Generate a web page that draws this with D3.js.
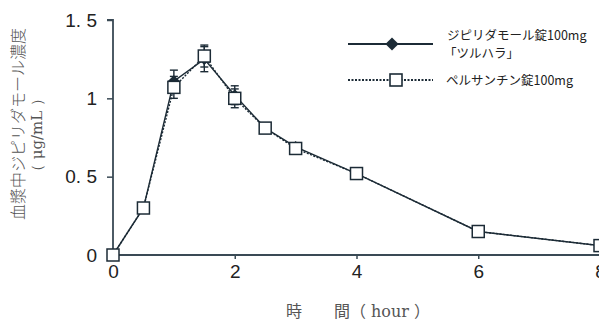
<!DOCTYPE html>
<html><head><meta charset="utf-8">
<script src="https://cdn.jsdelivr.net/npm/d3@7"></script>
<style>body{margin:0;background:#fff;}svg{display:block;}</style>
</head><body><svg id="c" width="599" height="322"></svg>
<script>
const times = [0, 0.5, 1, 1.5, 2, 2.5, 3, 4, 6, 8];
const tsuruhara = [0, 0.30, 1.11, 1.25, 1.02, 0.81, 0.69, 0.52, 0.15, 0.06];
const tsuruharaSD = [0, 0.01, 0.07, 0.08, 0.06, 0.03, 0.02, 0.01, 0.01, 0.005];
const persantin = [0, 0.30, 1.07, 1.27, 1.00, 0.81, 0.68, 0.52, 0.15, 0.06];
const persantinSD = [0, 0.01, 0.07, 0.07, 0.06, 0.02, 0.02, 0.01, 0.01, 0.005];
const xTicks = [0, 2, 4, 6, 8];
const yTicks = [0, 0.5, 1, 1.5];
const yTickLabels = ["0", "0. 5", "1", "1. 5"];
const seriesNames = ["ジピリダモール錠100mg", "「ツルハラ」", "ペルサンチン錠100mg"];
const yTitle = ["血漿中ジピリダモール濃度", "（ μg/mL ）"];
const xTitle = "時　　間（ hour ）";

const svg = d3.select("#c");
const col = "#1c2b36";
const axCol = "#3a4a55";
const x = d3.scaleLinear().domain([0, 8]).range([113, 600]);
const y = d3.scaleLinear().domain([0, 1.5]).range([255, 20]);

// axes
const yAxis = svg.append("g").attr("transform", "translate(113,0)")
  .call(d3.axisLeft(y).tickValues(yTicks).tickSize(6).tickFormat((d, i) => yTickLabels[i]));
yAxis.selectAll("text").attr("font-family", "Liberation Sans, Arial, sans-serif").attr("font-size", 19).attr("fill", "#222").attr("x", -16);
const xAxis = svg.append("g").attr("transform", "translate(0,255)")
  .call(d3.axisBottom(x).tickValues(xTicks).tickSize(4).tickFormat(d3.format("d")));
xAxis.selectAll("text").attr("font-family", "Liberation Sans, Arial, sans-serif").attr("font-size", 19).attr("fill", "#222").attr("y", 10);
svg.selectAll(".domain").attr("stroke", axCol).attr("stroke-width", 1.8);
svg.selectAll(".tick line").attr("stroke", axCol).attr("stroke-width", 1.5);
yAxis.select(".domain").attr("d", "M-6,20H0V255");
xAxis.select(".domain").attr("d", "M113,0H600");

// titles
svg.append("text").attr("transform", "translate(24,124) rotate(-90)").attr("text-anchor", "middle")
  .attr("font-family", "Noto Sans CJK JP, sans-serif").attr("font-weight", 300).attr("font-size", 16).attr("fill", "#555").text(yTitle[0]);
svg.append("text").attr("transform", "translate(42,135) rotate(-90)").attr("text-anchor", "middle")
  .attr("font-family", "DejaVu Serif, serif").attr("font-size", 15).attr("fill", "#555").text(yTitle[1]);
svg.append("text").attr("x", 358).attr("y", 317).attr("text-anchor", "middle")
  .attr("font-family", "DejaVu Serif, Noto Sans CJK JP, serif").attr("font-size", 16).attr("fill", "#555").text(xTitle);

// lines
const pts1 = times.map((t, i) => [t, tsuruhara[i], tsuruharaSD[i]]);
const pts2 = times.map((t, i) => [t, persantin[i], persantinSD[i]]);
const line = d3.line().x(d => x(d[0])).y(d => y(d[1]));

function errBars(pts) {
  const g = svg.append("g").attr("stroke", col).attr("stroke-width", 1.4);
  pts.filter(d => d[2] > 0.015).forEach(d => {
    g.append("line").attr("x1", x(d[0])).attr("x2", x(d[0])).attr("y1", y(d[1] - d[2])).attr("y2", y(d[1] + d[2]));
    [d[1] - d[2], d[1] + d[2]].forEach(v => g.append("line").attr("x1", x(d[0]) - 4).attr("x2", x(d[0]) + 4).attr("y1", y(v)).attr("y2", y(v)));
  });
}
errBars(pts1);
errBars(pts2);
svg.append("path").datum(pts2).attr("d", line).attr("fill", "none").attr("stroke", col).attr("stroke-width", 1.4).attr("stroke-dasharray", "2,1.5");
svg.append("path").datum(pts1).attr("d", line).attr("fill", "none").attr("stroke", col).attr("stroke-width", 1.4);

const diamond = d3.symbol().type(d3.symbolDiamond2).size(90);
svg.append("g").selectAll("path").data(pts1).join("path")
  .attr("transform", d => `translate(${x(d[0])},${y(d[1])}) rotate(0)`)
  .attr("d", diamond).attr("fill", col);
svg.append("g").selectAll("rect").data(pts2).join("rect")
  .attr("x", d => x(d[0]) - 6).attr("y", d => y(d[1]) - 6).attr("width", 12).attr("height", 12)
  .attr("fill", "#fff").attr("stroke", col).attr("stroke-width", 1.5);

// legend
const lg = svg.append("g");
lg.append("line").attr("x1", 348).attr("x2", 433).attr("y1", 44).attr("y2", 44).attr("stroke", col).attr("stroke-width", 2);
lg.append("path").attr("transform", "translate(392,44)").attr("d", d3.symbol().type(d3.symbolDiamond2).size(110)).attr("fill", col);
lg.append("line").attr("x1", 348).attr("x2", 433).attr("y1", 80).attr("y2", 80).attr("stroke", col).attr("stroke-width", 2).attr("stroke-dasharray", "2,1.5");
lg.append("rect").attr("x", 390).attr("y", 74).attr("width", 12).attr("height", 12).attr("fill", "#fff").attr("stroke", col).attr("stroke-width", 1.6);
const lt = {"font-family": "Noto Sans CJK JP, sans-serif", "font-size": 12.5, "fill": "#222"};
[[447, 40, seriesNames[0]], [444, 58, seriesNames[1]], [446, 85, seriesNames[2]]].forEach(([tx, ty, s]) => {
  const t = lg.append("text").attr("x", tx).attr("y", ty).text(s);
  Object.entries(lt).forEach(([k, v]) => t.attr(k, v));
});
</script></body></html>
